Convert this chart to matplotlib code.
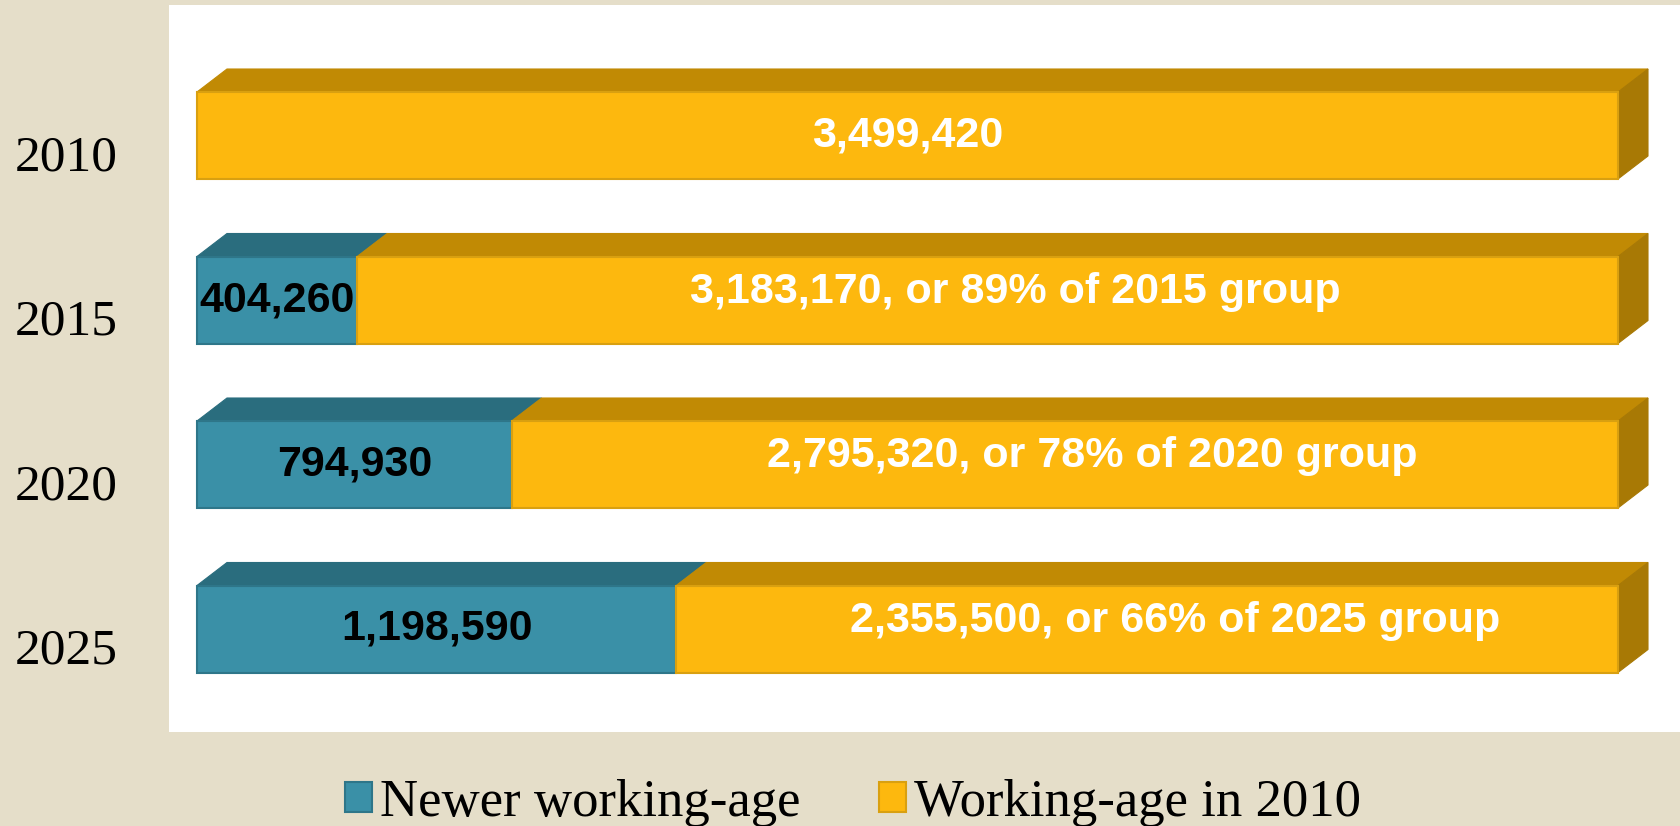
import matplotlib
matplotlib.use('Agg')
import matplotlib.pyplot as plt
from matplotlib.patches import Polygon, Patch
from matplotlib.transforms import ScaledTranslation

# ---- data ----
years = ['2010', '2015', '2020', '2025']
newer = [0, 404260, 794930, 1198590]
in2010 = [3499420, 3183170, 2795320, 2355500]
share_pct = [100, 89, 78, 66]
series_names = ['Newer working-age', 'Working-age in 2010']

# ---- styles ----
W, H, DPI = 1680, 826, 100
BG = '#E5DEC9'
TEAL, TEAL_TOP, TEAL_EDGE = '#3A90A7', '#2A6D7E', '#2E7689'
ORANGE, ORANGE_TOP, ORANGE_SIDE, ORANGE_EDGE = '#FDB80E', '#C18A04', '#A87905', '#D9A010'
SERIF = ['Liberation Serif', 'DejaVu Serif']
SANS = ['Liberation Sans', 'DejaVu Sans']

fig = plt.figure(figsize=(W / DPI, H / DPI), dpi=DPI, facecolor=BG)
ax = fig.add_axes([169 / W, 1 - 732 / H, (1680 - 169) / W, (732 - 5) / H])
ax.set_facecolor('white')

# axis scales: fraction 0..1 spans 197..1618 px, categories 164.5 px apart
px_x = 1421.0
px_y = 164.5
ax.set_xlim(-(197 - 169) / px_x, (1680 - 197) / px_x)
ax.set_ylim((732 - 135.5) / px_y, -(135.5 - 5) / px_y)

ypos = list(range(len(years)))
totals = [a + b for a, b in zip(newer, in2010)]
f_new = [a / t for a, t in zip(newer, totals)]
f_old = [b / t for b, t in zip(in2010, totals)]

bar_h = 87 / px_y
dx = 30 / px_x
dy = 23 / px_y

idx_new = [i for i in ypos if newer[i] > 0]
bars_new = ax.barh([ypos[i] for i in idx_new], [f_new[i] for i in idx_new],
                   height=bar_h, color=TEAL, edgecolor=TEAL_EDGE, linewidth=1.5, zorder=3)
bars_old = ax.barh(ypos, f_old, left=f_new, height=bar_h, color=ORANGE,
                   edgecolor=ORANGE_EDGE, linewidth=1.5, zorder=3)

def top_face(rect, color):
    x0 = rect.get_x(); x1 = x0 + rect.get_width()
    yt = rect.get_y()  # visually top (y axis inverted)
    poly = Polygon([(x0, yt), (x1, yt), (x1 + dx, yt - dy), (x0 + dx, yt - dy)],
                   closed=True, facecolor=color, edgecolor=color, linewidth=0.8, zorder=2)
    ax.add_patch(poly)

def side_face(rect, color):
    x1 = rect.get_x() + rect.get_width()
    yt = rect.get_y(); yb = yt + rect.get_height()
    poly = Polygon([(x1, yt), (x1 + dx, yt - dy), (x1 + dx, yb - dy), (x1, yb)],
                   closed=True, facecolor=color, edgecolor=color, linewidth=0.8, zorder=2)
    ax.add_patch(poly)

for r in bars_new:
    top_face(r, TEAL_TOP)
for r in bars_old:
    top_face(r, ORANGE_TOP)
    side_face(r, ORANGE_SIDE)

# labels
for r, i in zip(bars_new, idx_new):
    ax.text(r.get_x() + r.get_width() / 2, ypos[i], f'{newer[i]:,}',
            ha='center', va='center', color='black', fontsize=31,
            fontweight='bold', family=SANS, zorder=5)
for r, i in zip(bars_old, ypos):
    if newer[i] == 0:
        label = f'{in2010[i]:,}'
        off = (0, 0)
    else:
        label = f'{in2010[i]:,}, or {share_pct[i]}% of {years[i]} group'
        off = (20, 6)  # points
    ax.annotate(label, (r.get_x() + r.get_width() / 2, ypos[i]),
                xytext=off, textcoords='offset points',
                ha='center', va='center', color='white', fontsize=31,
                fontweight='bold', family=SANS, zorder=5)

# axis decoration
for s in ax.spines.values():
    s.set_visible(False)
ax.set_xticks([])
ax.set_yticks(ypos)
ax.set_yticklabels(years, fontsize=37, family=SERIF, color='black')
ax.tick_params(axis='y', length=0, pad=37)
for lab in ax.get_yticklabels():
    lab.set_transform(lab.get_transform() + ScaledTranslation(0, -17 / DPI, fig.dpi_scale_trans))

handles = [Patch(facecolor=TEAL, edgecolor=TEAL_EDGE, linewidth=1.5),
           Patch(facecolor=ORANGE, edgecolor=ORANGE_EDGE, linewidth=1.5)]
fig.legend(handles, series_names, loc='center', bbox_to_anchor=(853 / W, 1 - 803 / H),
           ncol=2, frameon=False, prop={'family': SERIF, 'size': 38},
           handlelength=0.5, handleheight=0.5, handletextpad=0.15, columnspacing=1.5)

fig.savefig('out.png', dpi=DPI, facecolor=BG)
